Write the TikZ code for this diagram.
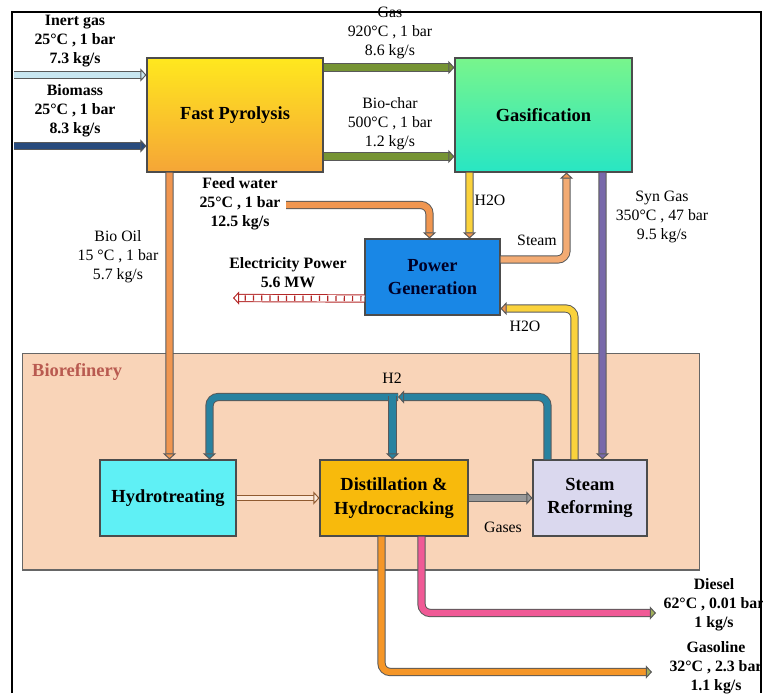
\documentclass[tikz,border=0pt]{standalone}
\usepackage{fontspec}
\setmainfont{Liberation Serif}
\usetikzlibrary{arrows.meta, positioning, calc}
\definecolor{pyroyellow}{RGB}{255,232,30}
\definecolor{pyroorange}{RGB}{245,165,55}
\definecolor{gasigreen}{RGB}{120,245,140}
\definecolor{gasiteal}{RGB}{40,230,195}
\definecolor{powerblue}{RGB}{25,135,230}
\definecolor{hydrocyan}{RGB}{95,240,245}
\definecolor{distorange}{RGB}{248,186,12}
\definecolor{reformlilac}{RGB}{218,216,238}
\definecolor{refinery}{RGB}{249,212,184}
\definecolor{oilorange}{RGB}{240,150,80}
\definecolor{olivegas}{RGB}{118,148,52}
\definecolor{inertblue}{RGB}{200,230,240}
\definecolor{biomassblue}{RGB}{40,75,125}
\definecolor{hteal}{RGB}{40,130,160}
\definecolor{syngas}{RGB}{120,105,170}
\definecolor{wateryellow}{RGB}{250,210,60}
\definecolor{dieselpink}{RGB}{240,90,150}
\definecolor{gasolineorange}{RGB}{245,150,40}
\definecolor{productolive}{RGB}{160,175,90}
\definecolor{elecred}{RGB}{180,40,40}
\definecolor{refinerytext}{RGB}{185,90,80}

\begin{document}
\begin{tikzpicture}[
    x=0.02cm, y=-0.02cm,
    unit/.style={
        rectangle, draw=black!70, line width=0.6pt,
        font=\fontsize{10.5}{13.5}\selectfont\bfseries,
        align=center, inner sep=2pt
    },
    flow/.style={font=\fontsize{9}{10.7}\selectfont\bfseries, align=center},
    flowlight/.style={font=\fontsize{9}{10.7}\selectfont, align=center},
    pipe/.style={
        draw=black!65, line width=0.55pt, double=#1, double distance=3.6pt,
        rounded corners=5pt
    },
    tip/.style={-{Triangle[length=3.5pt, width=7.5pt, fill=#1]}},
    >=Stealth
]
\useasboundingbox (0,0) rectangle (763,693);

% Frame
\draw[line width=1.3pt] (12,693) -- (12,12) -- (761,12) -- (761,693);

% Biorefinery area
\node[rectangle, draw=black!60, line width=0.6pt, fill=refinery,
      minimum width=13.56cm, minimum height=4.34cm, inner sep=0pt]
      (bioref) at (361,461.5) {};
\node[anchor=west, font=\fontsize{10.5}{12}\selectfont\bfseries, text=refinerytext]
      (bioreflabel) at (26,372) {Biorefinery};

% Units
\node[unit, minimum width=3.52cm, minimum height=2.28cm,
      top color=pyroyellow, bottom color=pyroorange] (fp) at (235,115) {Fast Pyrolysis};
\node[unit, minimum width=3.54cm, minimum height=2.28cm,
      top color=gasigreen, bottom color=gasiteal] (gasi) at (543.5,115) {Gasification};
\node[unit, minimum width=2.7cm, minimum height=1.52cm,
      fill=powerblue, text=black!85!blue] (pg) at (432.5,277) {Power\\Generation};
\node[unit, minimum width=2.72cm, minimum height=1.52cm,
      fill=hydrocyan] (hydro) at (168,498) {Hydrotreating};
\node[unit, minimum width=2.96cm, minimum height=1.52cm,
      fill=distorange] (dist) at (394,498) {Distillation \&\\Hydrocracking};
\node[unit, minimum width=2.28cm, minimum height=1.52cm,
      fill=reformlilac] (reform) at (590,498) {Steam\\Reforming};

% Free ends
\coordinate (inertIn) at (14,75);
\coordinate (biomassIn) at (14,146);
\coordinate (feedIn) at (286,205);
\coordinate (elecOut) at (233,298);
\coordinate (dieselOut) at (656,613);
\coordinate (gasolineOut) at (652,672);
\coordinate (hmid) at (398,397);

% Feeds into pyrolysis
\draw[pipe=inertblue, tip=inertblue] (inertIn) -- (inertIn -| fp.west);
\draw[pipe=biomassblue, tip=biomassblue] (biomassIn) -- (biomassIn -| fp.west);

% Pyrolysis -> gasification
\draw[pipe=olivegas, tip=olivegas] ($(fp.north east)+(0,10)$) -- ($(gasi.north west)+(0,10)$);
\draw[pipe=olivegas, tip=olivegas] ($(fp.south east)+(0,-16)$) -- ($(gasi.south west)+(0,-16)$);

% Bio oil
\draw[pipe=oilorange, tip=oilorange] ($(fp.south west)+(23,0)$) -- ($(hydro.north west)+(70,0)$);

% Water and steam loop
\draw[pipe=oilorange, tip=oilorange] (feedIn) -| ($(pg.north west)+(65,0)$);
\draw[pipe=wateryellow, tip=oilorange] ($(gasi.south west)+(15,0)$) -- ($(pg.north west)+(105,0)$);
\draw[pipe=oilorange!80!white, tip=oilorange] ($(pg.north east)+(0,21)$) -| ($(gasi.south west)+(112,0)$);
\draw[pipe=syngas, tip=syngas] ($(gasi.south west)+(148,0)$) -- ($(reform.north west)+(70,0)$);
\draw[pipe=wateryellow, tip=oilorange] ($(reform.north west)+(42,0)$) |- ($(pg.south east)+(0,-7)$);

% Electricity
\draw[pipe=white, draw=elecred, tip=white] ($(pg.south west)+(0,-17)$) -- (elecOut);
\draw[elecred, line width=3pt, dash pattern=on 0.7pt off 4pt]
    ($(pg.south west)+(-3,-17)$) -- ($(elecOut)+(8,0)$);

% H2 loop
\draw[pipe=hteal, tip=hteal] (hmid) -| ($(hydro.north west)+(110,0)$);
\draw[pipe=hteal, tip=hteal] ($(dist.north west)+(73,-63)$) -- ($(dist.north west)+(73,0)$);
\draw[pipe=hteal, tip=hteal] ($(reform.north west)+(15,0)$) |- (hmid);

% Refinery internal flows
\draw[pipe=white!80!oilorange, draw=oilorange!60!black, double distance=2.6pt,
      tip=white!80!oilorange] (hydro.east) -- (dist.west);
\draw[pipe=gray!80, tip=gray!80] (dist.east) -- (reform.west);

% Products
\draw[pipe=dieselpink, tip=productolive] ($(dist.south west)+(102,0)$) |- (dieselOut);
\draw[pipe=gasolineorange, tip=productolive] ($(dist.south west)+(62,0)$) |- (gasolineOut);

% Stream labels
\node[flow] (inertlabel) at (75,41) {Inert gas\\25°C , 1 bar\\7.3 kg/s};
\node[flow] (biomasslabel) at (75,111) {Biomass\\25°C , 1 bar\\8.3 kg/s};
\node[flowlight] (gaslabel) at (390,33) {Gas\\920°C , 1 bar\\8.6 kg/s};
\node[flowlight] (charlabel) at (390,124) {Bio-char\\500°C , 1 bar\\1.2 kg/s};
\node[flow] (feedlabel) at (240,204) {Feed water\\25°C , 1 bar\\12.5 kg/s};
\node[flowlight] (oillabel) at (118,257) {Bio Oil\\15 °C , 1 bar\\5.7 kg/s};
\node[flow] (eleclabel) at (288,273) {Electricity Power\\5.6 MW};
\node[flowlight] (waterlabel) at (490,200) {H2O};
\node[flowlight] (steamlabel) at (537,240) {Steam};
\node[flowlight] (synlabel) at (662,217) {Syn Gas\\350°C , 47 bar\\9.5 kg/s};
\node[flowlight] (returnlabel) at (525,326) {H2O};
\node[flowlight] (hlabel) at (392,378) {H2};
\node[flowlight] (gaseslabel) at (503,527) {Gases};
\node[flow] (diesellabel) at (714,605) {Diesel\\62°C , 0.01 bar\\1 kg/s};
\node[flow] (gasolinelabel) at (716,668) {Gasoline\\32°C , 2.3 bar\\1.1 kg/s};

\end{tikzpicture}
\end{document}
